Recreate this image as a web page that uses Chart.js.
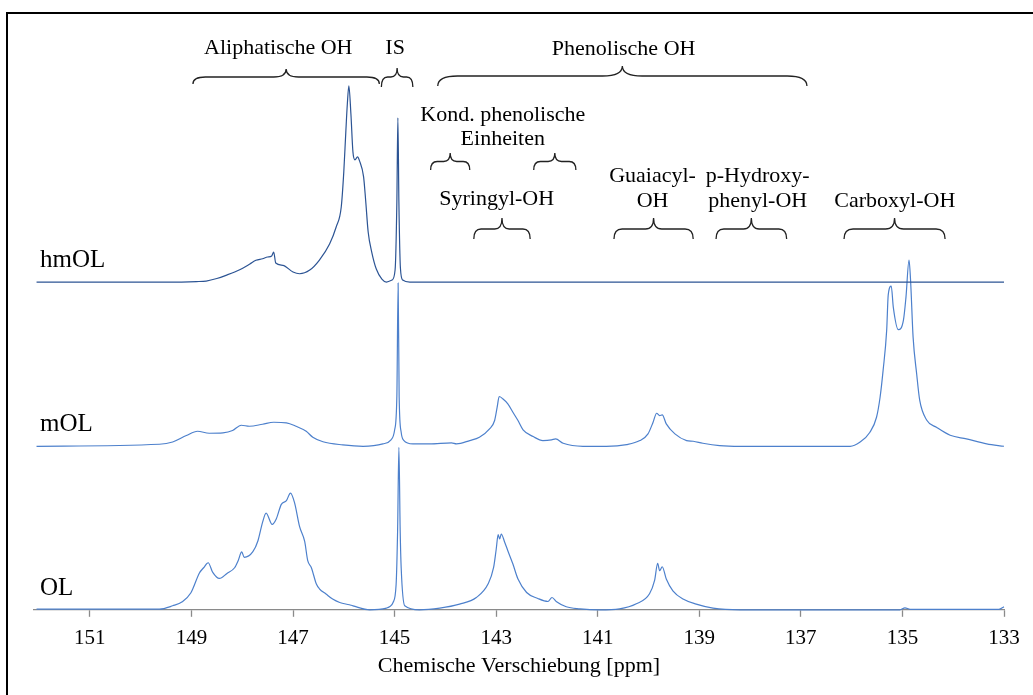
<!DOCTYPE html>
<html>
<head>
<meta charset="utf-8">
<script src="https://cdn.jsdelivr.net/npm/chart.js@4.4.1/dist/chart.umd.min.js"></script>
<style>
  html, body { margin: 0; padding: 0; background: #fff; }
  #wrap { width: 1033px; height: 695px; }
</style>
</head>
<body>
<div id="wrap"><canvas id="nmr" width="1033" height="695"></canvas></div>
<script>
// 31P-NMR spectra, chemical shift in ppm (x) and signal height (y)
const tickValues = [133, 135, 137, 139, 141, 143, 145, 147, 149, 151];

const hmolPpm = [152.05, 150.5, 149.5, 148.9, 148.71, 148.5, 148.32, 148.05, 147.85, 147.73, 147.6, 147.5, 147.42, 147.38,
    147.34, 147.2, 147.0, 146.87, 146.67, 146.48, 146.28, 146.15, 146.05, 146.0, 145.96, 145.93, 145.9, 145.86, 145.82,
    145.78, 145.73, 145.69, 145.61, 145.57, 145.52, 145.45, 145.36, 145.25, 145.16, 145.05, 144.99, 144.955, 144.935,
    144.915, 144.885, 144.84, 144.7, 140, 136, 133];
const hmolInt = [0, 0, 0, 0.5, 1, 3.5, 6.7, 12.3, 18, 21.7, 23.3, 25, 26, 30,
    19, 16.7, 10, 8.3, 12, 22, 38, 55, 75, 110, 150, 178, 196, 168, 130,
    122, 125, 121, 105, 82, 50, 30, 13, 3, 0, 2, 12, 80, 164,
    80, 14, 2, 0, 0, 0, 0];

const molPpm = [152.05, 149.63, 149.37, 149.1, 148.88, 148.65, 148.38, 148.19, 148.02, 147.86, 147.6, 147.38, 147.13,
    146.94, 146.74, 146.61, 146.41, 146.02, 145.62, 145.23, 145.07, 145.0, 144.955, 144.93, 144.91, 144.87, 144.82,
    144.64, 144.31, 143.88, 143.78, 143.52, 143.33, 143.13, 143.03, 142.98, 142.94, 142.87, 142.77, 142.67, 142.57,
    142.47, 142.27, 142.08, 141.91, 141.83, 141.68, 141.29, 140.83, 140.43, 140.17, 140.01, 139.91, 139.84, 139.78,
    139.73, 139.65, 139.48, 139.25, 139.12, 138.93, 138.6, 138.2, 136.03, 135.84, 135.64, 135.51, 135.44, 135.38,
    135.31, 135.28, 135.22, 135.18, 135.08, 134.98, 134.93, 134.87, 134.84, 134.79, 134.72, 134.66, 134.52, 134.33,
    134.06, 133.74, 133.34, 133.0];
const molInt = [0, 2, 4.3, 10.7, 15, 13, 13.4, 15.7, 21, 20, 22, 24, 23.4,
    20, 15, 9, 4.5, 1.4, 0, 2.4, 6.4, 16, 50, 163, 50, 14, 6,
    2.4, 2.4, 3.4, 2.4, 5.7, 9, 17.4, 25.7, 39, 49.7, 47.4, 42.4, 34, 25.7,
    16.4, 9.7, 5.7, 6.4, 7.4, 3, 0, 0, 1.7, 5.7, 12.4, 24, 33, 30.7,
    31.4, 22.4, 12.4, 5.7, 5, 3, 0.7, 0, 0, 4, 14, 29, 49, 76,
    116, 151, 160, 139, 116.4, 126, 149, 186, 166, 109, 72.4, 46, 26, 19,
    11, 7.4, 2.4, 0];

const olPpm = [152.05, 149.63, 149.37, 149.18, 149.01, 148.84, 148.76, 148.67, 148.58, 148.45, 148.3, 148.15, 148.08,
    148.01, 147.96, 147.79, 147.69, 147.6, 147.53, 147.41, 147.33, 147.23, 147.13, 147.05, 146.97, 146.87, 146.77,
    146.71, 146.64, 146.54, 146.48, 146.35, 146.22, 146.08, 145.89, 145.82, 145.49, 145.16, 145.1, 145.03, 144.97,
    144.94, 144.915, 144.89, 144.87, 144.8, 144.51, 144.11, 143.72, 143.39, 143.16, 143.05, 143.0, 142.96, 142.93,
    142.9, 142.83, 142.77, 142.67, 142.57, 142.4, 142.18, 141.98, 141.9, 141.81, 141.62, 141.35, 140.96, 140.57,
    140.24, 139.98, 139.88, 139.82, 139.78, 139.73, 139.65, 139.52, 139.32, 139.06, 138.73, 138.2, 135.05, 134.95,
    134.85, 133.1, 133.0];
const olInt = [0.7, 0.7, 4, 8, 17, 37, 42, 47, 37.3, 31.3, 36.3, 42, 49,
    57.8, 52.3, 58, 69, 87.3, 96.5, 85.3, 90.7, 105.3, 109, 116.5, 107, 83, 68.3,
    49, 42.3, 25.7, 21, 15.7, 10.7, 7.3, 5, 4, 0, 1.7, 3, 7.3, 25,
    80, 162.3, 80, 42, 4, 0, 1.7, 5.7, 12.3, 25.7, 42.3, 60, 75, 70.7,
    75.7, 67.3, 59, 45.7, 30.7, 17.3, 11.3, 8.3, 12.3, 8, 3, 1, 0, 1,
    6, 16, 29.3, 46.3, 39, 43, 30.7, 19, 10.7, 5.7, 1.7, 0, 0, 2,
    0.5, 0.5, 3];

// vertical stacking of the three spectra
const sampleNames = ['hmOL', 'mOL', 'OL'];
const sampleOffsets = [327.3, 163.3, 0];
const sampleColors = ['#2c5494', '#4d80cc', '#4d80cc'];

// assignment braces: label lines, label centre (ppm), brace from / to (ppm)
const braceLabels = [
    ['Aliphatische OH'], ['IS'], ['Phenolische OH'], ['Kond. phenolische', 'Einheiten'],
    ['Syringyl-OH'], ['Guaiacyl-', 'OH'], ['p-Hydroxy-', 'phenyl-OH'], ['Carboxyl-OH']
];
const braceLabelPpm = [147.29, 144.99, 140.49, 142.87, 142.99, 139.92, 137.85, 135.15];
const braceFrom = [148.97, 145.26, 144.15, 144.29, 143.44, 140.68, 138.67, 136.15];
const braceTo = [145.30, 144.64, 136.88, 143.52, 142.33, 139.12, 137.28, 134.16];
const extraBrace = { from: 142.26, to: 141.43 }; // second brace of "Kond. phenolische Einheiten"

const serif = "'Liberation Serif', 'Times New Roman', serif";

function toPoints(ppm, vals, offset) {
    return ppm.map((p, i) => ({ x: p, y: vals[i] + offset }));
}

// draws one curly brace, tip pointing up
function drawBrace(ctx, x1, x2, yTip, yLine, yEnd) {
    const xm = (x1 + x2) / 2;
    const r = 5 + Math.abs(x2 - x1) * 0.04;
    ctx.beginPath();
    ctx.moveTo(x1, yEnd);
    ctx.quadraticCurveTo(x1, yLine, x1 + r, yLine);
    ctx.lineTo(xm - r, yLine);
    ctx.quadraticCurveTo(xm, yLine, xm, yTip);
    ctx.quadraticCurveTo(xm, yLine, xm + r, yLine);
    ctx.lineTo(x2 - r, yLine);
    ctx.quadraticCurveTo(x2, yLine, x2, yEnd);
    ctx.stroke();
}

const nmrAnnotations = {
    id: 'nmrAnnotations',
    beforeDraw(chart) {
        const ctx = chart.ctx;
        ctx.save();
        ctx.fillStyle = '#000';
        ctx.fillRect(6, 12, 1040, 2);
        ctx.fillRect(6, 12, 2, 700);
        ctx.restore();
    },
    afterDatasetsDraw(chart) {
        const ctx = chart.ctx;
        const xs = chart.scales.x;
        const ys = chart.scales.y;
        ctx.save();

        // sample names above each baseline
        ctx.fillStyle = '#000';
        ctx.font = '25px ' + serif;
        ctx.textAlign = 'left';
        ctx.textBaseline = 'alphabetic';
        sampleNames.forEach((name, i) => {
            ctx.fillText(name, 40, ys.getPixelForValue(sampleOffsets[i]) - 15);
        });

        // brace rows: [tip, line, end] and label baselines
        const rows = [
            { brace: [69, 77, 84], text: [53.5] },
            { brace: [68, 77, 87], text: [53.5] },
            { brace: [66, 76, 86], text: [54.5] },
            { brace: [153, 161.5, 170], text: [120.5, 145] },
            { brace: [218, 229, 239], text: [205] },
            { brace: [218, 229, 239], text: [181.5, 206.5] },
            { brace: [218, 229, 239], text: [181.5, 206.5] },
            { brace: [218, 229, 239], text: [206.5] }
        ];

        ctx.strokeStyle = '#222';
        ctx.lineWidth = 1.3;
        ctx.font = '22px ' + serif;
        ctx.textAlign = 'center';
        braceLabels.forEach((lines, i) => {
            const b = rows[i].brace;
            drawBrace(ctx, xs.getPixelForValue(braceFrom[i]), xs.getPixelForValue(braceTo[i]), b[0], b[1], b[2]);
            lines.forEach((t, j) => {
                ctx.fillText(t, xs.getPixelForValue(braceLabelPpm[i]), rows[i].text[j]);
            });
        });
        const kb = rows[3].brace;
        drawBrace(ctx, xs.getPixelForValue(extraBrace.from), xs.getPixelForValue(extraBrace.to), kb[0], kb[1], kb[2]);

        ctx.restore();
    }
};

new Chart(document.getElementById('nmr'), {
    type: 'line',
    data: {
        datasets: sampleNames.map((name, i) => ({
            label: name,
            data: toPoints([hmolPpm, molPpm, olPpm][i], [hmolInt, molInt, olInt][i], sampleOffsets[i]),
            borderColor: sampleColors[i],
            borderWidth: 1.2,
            pointRadius: 0,
            cubicInterpolationMode: 'monotone',
            fill: false,
            clip: false
        }))
    },
    options: {
        responsive: false,
        animation: false,
        events: [],
        layout: { padding: { left: 34, right: 29, top: 24, bottom: 16 } },
        plugins: {
            legend: { display: false },
            tooltip: { enabled: false }
        },
        scales: {
            x: {
                type: 'linear',
                reverse: true,
                min: 133,
                max: 152.1,
                afterBuildTicks: (scale) => {
                    scale.ticks = tickValues.map(v => ({ value: v }));
                },
                grid: {
                    drawOnChartArea: false,
                    drawTicks: true,
                    tickLength: 7,
                    tickColor: '#8a8a8a',
                    tickWidth: 1.3
                },
                border: { color: '#8a8a8a', width: 1.3 },
                ticks: {
                    color: '#000',
                    padding: 9,
                    maxRotation: 0,
                    font: { family: serif, size: 21 },
                    callback: (v) => String(v)
                },
                title: {
                    display: true,
                    text: 'Chemische Verschiebung [ppm]',
                    color: '#000',
                    font: { family: serif, size: 22 },
                    padding: { top: -7.4, bottom: 0 }
                }
            },
            y: {
                display: false,
                min: 0,
                max: 585
            }
        }
    },
    plugins: [nmrAnnotations]
});
</script>
</body>
</html>
